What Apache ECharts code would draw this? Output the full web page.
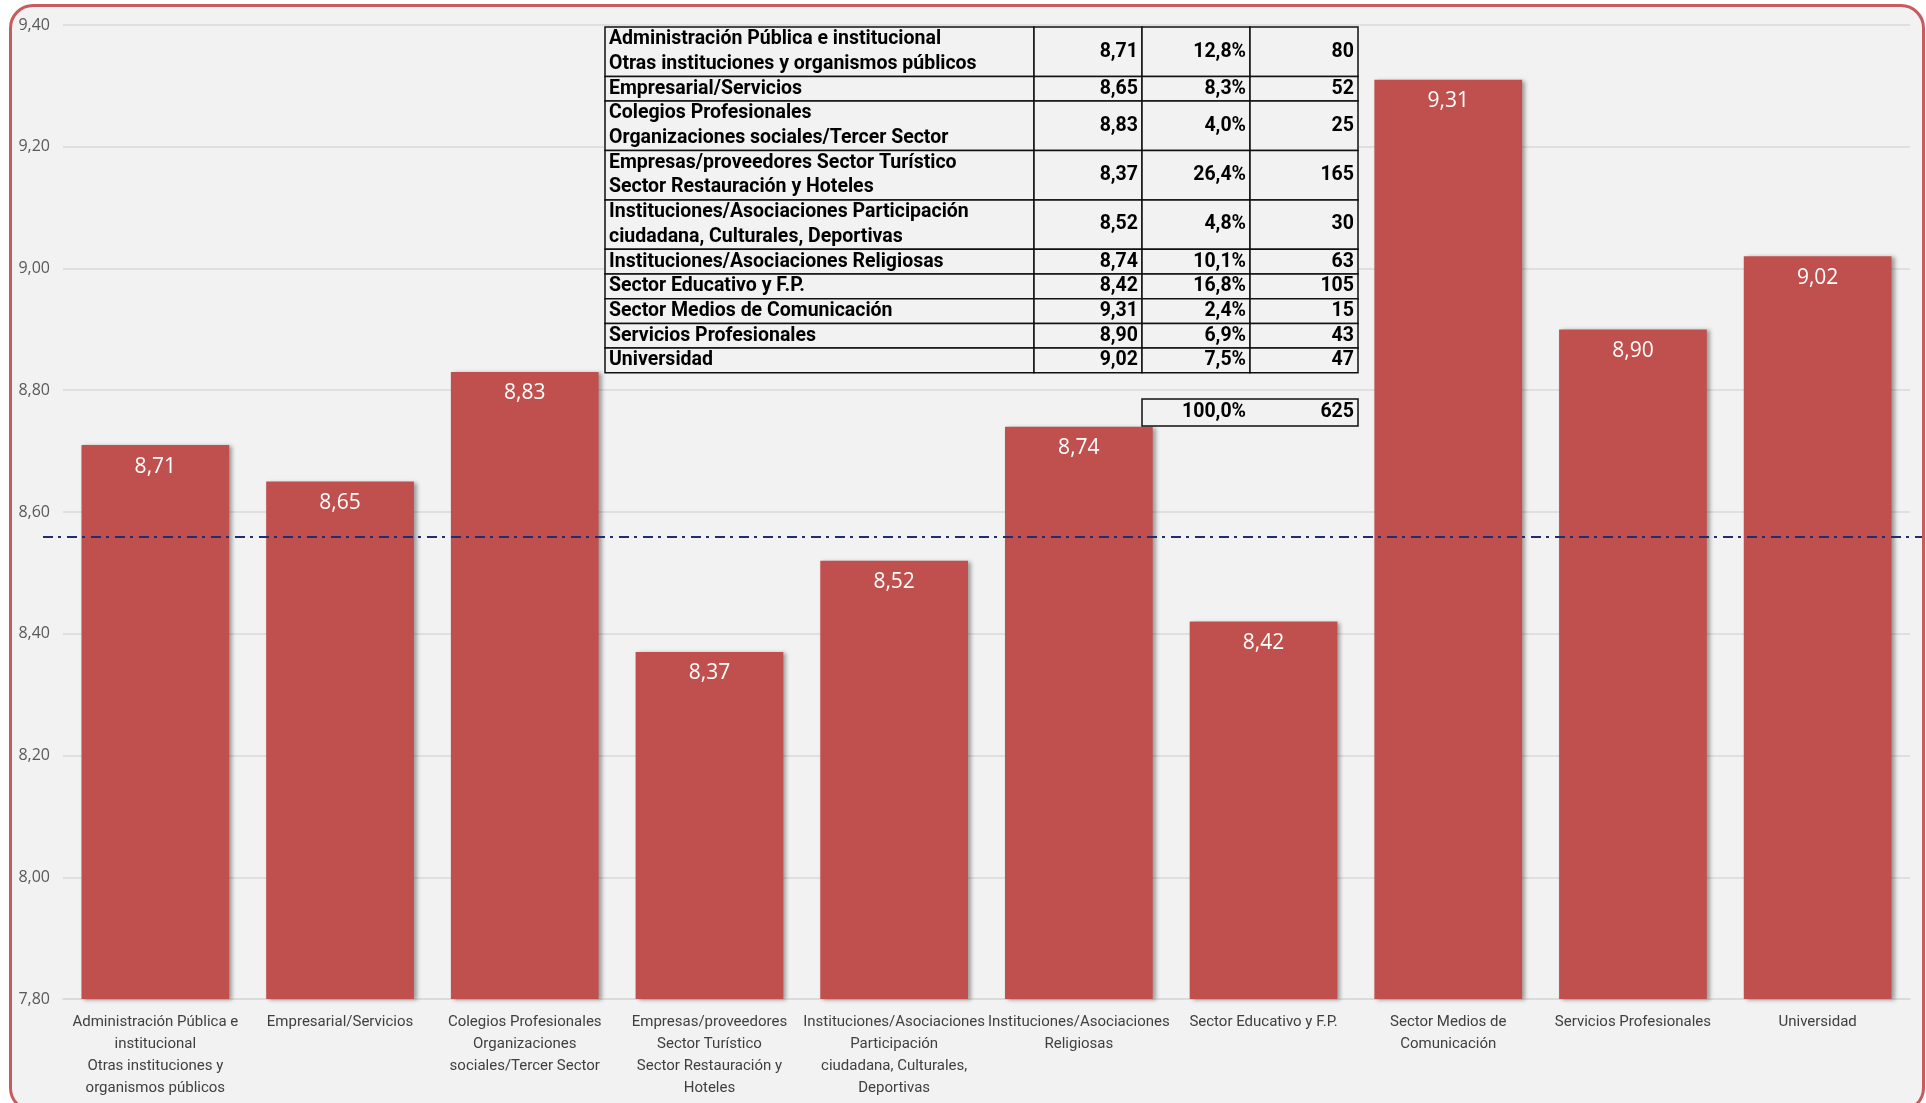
<!DOCTYPE html>
<html>
<head>
<meta charset="utf-8">
<title>Valoración por sector</title>
<script src="https://cdn.jsdelivr.net/npm/echarts@6/dist/echarts.min.js"></script>
<style>
    html, body { margin: 0; padding: 0; background: #ffffff; }
    #frame {
        position: absolute; left: 9px; top: 4px; width: 1916px; height: 1108px;
        box-sizing: border-box; border: 3px solid #c95a5e; border-radius: 24px; background: #f2f2f2;
    }
    #chart { position: absolute; left: 0; top: 0; width: 1926px; height: 1103px; }
</style>
</head>
<body>
<div id="frame"></div>
<div id="chart"></div>
<script>
    // etiquetas del eje X
    var categories = [
        'Administración Pública e\ninstitucional\nOtras instituciones y\norganismos públicos',
        'Empresarial/Servicios',
        'Colegios Profesionales\nOrganizaciones\nsociales/Tercer Sector',
        'Empresas/proveedores\nSector Turístico\nSector Restauración y\nHoteles',
        'Instituciones/Asociaciones\nParticipación\nciudadana, Culturales,\nDeportivas',
        'Instituciones/Asociaciones\nReligiosas',
        'Sector Educativo y F.P.',
        'Sector Medios de\nComunicación',
        'Servicios Profesionales',
        'Universidad'
    ];

    // etiquetas de la tabla
    var tableLabels = [
        'Administración Pública e institucional\nOtras instituciones y organismos públicos',
        'Empresarial/Servicios',
        'Colegios Profesionales\nOrganizaciones sociales/Tercer Sector',
        'Empresas/proveedores Sector Turístico\nSector Restauración y Hoteles',
        'Instituciones/Asociaciones Participación\nciudadana, Culturales, Deportivas',
        'Instituciones/Asociaciones Religiosas',
        'Sector Educativo y F.P.',
        'Sector Medios de Comunicación',
        'Servicios Profesionales',
        'Universidad'
    ];

    var scores = [8.71, 8.65, 8.83, 8.37, 8.52, 8.74, 8.42, 9.31, 8.90, 9.02];
    var shares = [12.8, 8.3, 4.0, 26.4, 4.8, 10.1, 16.8, 2.4, 6.9, 7.5];
    var counts = [80, 52, 25, 165, 30, 63, 105, 15, 43, 47];

    var yMin = 7.8;
    var yMax = 9.4;
    var yStep = 0.2;
    var referenceLine = 8.56;

    function comma(v, d) {
        return v.toFixed(d).replace('.', ',');
    }

    function cellText(txt, x, y, align, lineH) {
        return {
            type: 'text', z: 101,
            x: x, y: y,
            style: {
                text: txt, x: 0, y: 0,
                align: align,
                verticalAlign: 'middle',
                font: 'bold 19.5px Roboto, "Liberation Sans", sans-serif',
                lineHeight: lineH,
                fill: '#000000'
            }
        };
    }

    function buildTable() {
        var els = [];
        var cols = [605, 1034, 1142, 1250, 1358];
        var lineH = 24.7;
        var y = 27;

        tableLabels.forEach(function (lbl, i) {
            var h = lbl.split('\n').length * lineH;
            var cells = [lbl, comma(scores[i], 2), comma(shares[i], 1) + '%', String(counts[i])];
            for (var c = 0; c < 4; c++) {
                els.push({
                    type: 'rect', z: 100,
                    shape: { x: cols[c], y: y, width: cols[c + 1] - cols[c], height: h },
                    style: { fill: '#f2f2f2', stroke: '#111111', lineWidth: 1.5 }
                });
                els.push(cellText(cells[c], c === 0 ? cols[0] + 4 : cols[c + 1] - 4, y + h / 2,
                    c === 0 ? 'left' : 'right', lineH));
            }
            y += h;
        });

        // fila de totales
        var totalShare = shares.reduce(function (a, b) { return a + b; }, 0);
        var totalCount = counts.reduce(function (a, b) { return a + b; }, 0);
        els.push({
            type: 'rect', z: 100,
            shape: { x: cols[2], y: 399, width: cols[4] - cols[2], height: 27 },
            style: { fill: '#f2f2f2', stroke: '#111111', lineWidth: 1.5 }
        });
        els.push(cellText(comma(totalShare, 1) + '%', cols[3] - 4, 412.5, 'right', lineH));
        els.push(cellText(String(totalCount), cols[4] - 4, 412.5, 'right', lineH));
        return els;
    }

    var chartDom = document.getElementById('chart');
    var myChart = echarts.init(chartDom, null, { renderer: 'canvas' });

    var option = {
        backgroundColor: 'transparent',
        animation: false,
        grid: { left: 63, right: 16, top: 25, bottom: 104, containLabel: false },
        xAxis: {
            type: 'category',
            data: categories,
            axisTick: { show: false },
            axisLine: { lineStyle: { color: '#d9d9d9', width: 1.5 } },
            axisLabel: {
                interval: 0,
                margin: 12,
                color: '#404040',
                fontSize: 15,
                lineHeight: 22,
                fontFamily: 'Roboto, sans-serif'
            }
        },
        yAxis: {
            type: 'value',
            min: yMin,
            max: yMax,
            interval: yStep,
            axisLine: { show: false },
            axisTick: { show: false },
            splitLine: { lineStyle: { color: '#d9d9d9', width: 1.5 } },
            axisLabel: {
                margin: 13,
                color: '#595959',
                fontSize: 16,
                fontFamily: '"Open Sans", sans-serif',
                formatter: function (v) { return comma(v, 2); }
            }
        },
        series: [
            {
                name: 'Valoración',
                type: 'bar',
                data: scores,
                barCategoryGap: '20%',
                itemStyle: {
                    color: '#c0504d',
                    shadowColor: 'rgba(0,0,0,0.35)',
                    shadowBlur: 4,
                    shadowOffsetX: 3,
                    shadowOffsetY: 1
                },
                label: {
                    show: true,
                    position: 'insideTop',
                    distance: 11,
                    color: '#ffffff',
                    fontSize: 21,
                    fontFamily: '"Open Sans", sans-serif',
                    formatter: function (p) { return comma(p.value, 2); }
                }
            },
            {
                // serie auxiliar solo para la línea de referencia
                name: 'Referencia',
                type: 'line',
                data: [],
                clip: false,
                markLine: {
                    silent: true,
                    symbol: 'none',
                    label: { show: false },
                    lineStyle: { color: '#1f2f6e', width: 2, type: [10, 5, 3, 6] },
                    data: [
                        [{ x: 43, yAxis: referenceLine }, { x: 1922, yAxis: referenceLine }]
                    ]
                }
            }
        ],
        graphic: { elements: buildTable() }
    };

    option && myChart.setOption(option);
</script>
</body>
</html>
